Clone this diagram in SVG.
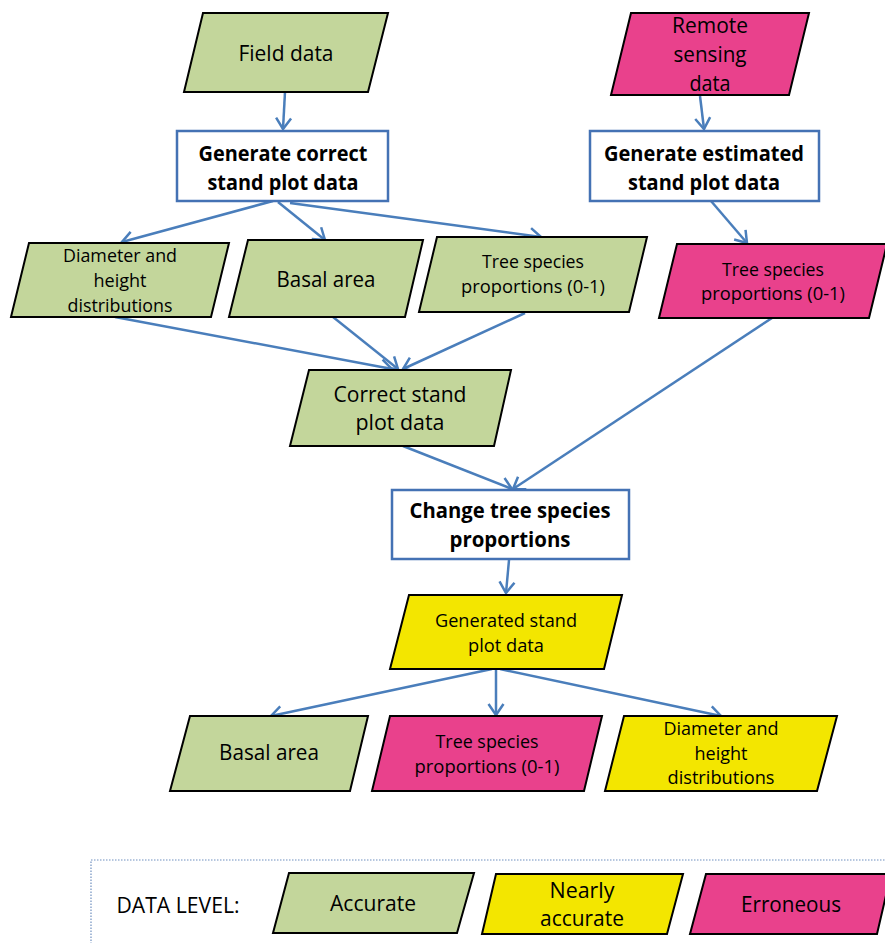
<svg xmlns="http://www.w3.org/2000/svg" width="885" height="943" viewBox="0 0 885 943">
<defs>
<marker id="ah" markerUnits="userSpaceOnUse" markerWidth="22" markerHeight="22" viewBox="-13 -11 16 22" refX="0" refY="0" orient="auto">
<path d="M -11 -7.5 L 0 0 L -11 7.5" fill="none" stroke="#4A7EBB" stroke-width="2.5"/>
</marker>
</defs>
<style>
.g{fill:#C3D69B;stroke:#000;stroke-width:2}
.p{fill:#E9418C;stroke:#000;stroke-width:2}
.y{fill:#F3E600;stroke:#000;stroke-width:2}
.box{fill:#fff;stroke:#4472B4;stroke-width:2.5}
.t{font-family:"Open Sans","DejaVu Sans",sans-serif;font-size:21px;fill:#000;text-anchor:middle}
.s{font-family:"Open Sans","DejaVu Sans",sans-serif;font-size:17.5px;fill:#000;text-anchor:middle}
.b{font-family:"Open Sans","DejaVu Sans",sans-serif;font-size:21px;font-weight:bold;fill:#000;text-anchor:middle}
.c path, .c line{stroke:#4A7EBB;stroke-width:2.5;fill:none;marker-end:url(#ah)}
</style>
<g class="c" id="connectors">
<line x1="285" y1="92" x2="283" y2="129"/>
<line x1="700" y1="96" x2="704" y2="129"/>
<line x1="273" y1="201" x2="122" y2="242"/>
<line x1="278" y1="202" x2="325" y2="240"/>
<line x1="290" y1="203" x2="541" y2="237"/>
<line x1="711" y1="201" x2="747" y2="243"/>
<line x1="115" y1="317" x2="392" y2="369"/>
<line x1="333" y1="317" x2="398" y2="369"/>
<line x1="525" y1="313" x2="403" y2="369"/>
<line x1="403" y1="446" x2="512" y2="489"/>
<line x1="772" y1="318" x2="513" y2="489"/>
<line x1="509" y1="560" x2="506" y2="593"/>
<line x1="492" y1="669" x2="271" y2="716"/>
<line x1="496" y1="669" x2="496" y2="715"/>
<line x1="500" y1="669" x2="721" y2="716"/>
</g>
<g id="field-data">
<polygon class="g" points="203,13 388,13 368,92 184,92"/>
<text class="t" x="286" y="61" textLength="95" lengthAdjust="spacingAndGlyphs">Field data</text>
</g>
<g id="remote-sensing">
<polygon class="p" points="631,13 809,13 789,95 611,95"/>
<text class="t" x="710" y="33" textLength="76" lengthAdjust="spacingAndGlyphs">Remote</text>
<text class="t" x="710" y="62" textLength="73" lengthAdjust="spacingAndGlyphs">sensing</text>
<text class="t" x="710" y="91" textLength="41" lengthAdjust="spacingAndGlyphs">data</text>
</g>
<g id="gen-correct">
<rect class="box" x="177" y="131" width="211" height="70"/>
<text class="b" x="283" y="161" textLength="169" lengthAdjust="spacingAndGlyphs">Generate correct</text>
<text class="b" x="283" y="190" textLength="151" lengthAdjust="spacingAndGlyphs">stand plot data</text>
</g>
<g id="gen-estimated">
<rect class="box" x="590" y="131" width="229" height="70"/>
<text class="b" x="704" y="161" textLength="200" lengthAdjust="spacingAndGlyphs">Generate estimated</text>
<text class="b" x="704" y="190" textLength="152" lengthAdjust="spacingAndGlyphs">stand plot data</text>
</g>
<g id="diameter-1">
<polygon class="g" points="29,243 229,243 211,317 11,317"/>
<text class="s" x="120" y="262" textLength="114" lengthAdjust="spacingAndGlyphs">Diameter and</text>
<text class="s" x="120" y="287" textLength="53" lengthAdjust="spacingAndGlyphs">height</text>
<text class="s" x="120" y="312" textLength="105" lengthAdjust="spacingAndGlyphs">distributions</text>
</g>
<g id="basal-1">
<polygon class="g" points="248,240 423,240 405,317 229,317"/>
<text class="t" x="326" y="287" textLength="99" lengthAdjust="spacingAndGlyphs">Basal area</text>
</g>
<g id="tree-green">
<polygon class="g" points="437,237 647,237 629,312 419,312"/>
<text class="s" x="533" y="268" textLength="102" lengthAdjust="spacingAndGlyphs">Tree species</text>
<text class="s" x="533" y="293" textLength="144" lengthAdjust="spacingAndGlyphs">proportions (0-1)</text>
</g>
<g id="tree-pink">
<polygon class="p" points="677,244 887,244 869,318 659,318"/>
<text class="s" x="773" y="276" textLength="102" lengthAdjust="spacingAndGlyphs">Tree species</text>
<text class="s" x="773" y="300" textLength="144" lengthAdjust="spacingAndGlyphs">proportions (0-1)</text>
</g>
<g id="correct-stand">
<polygon class="g" points="309,370 511,370 494,446 290,446"/>
<text class="t" x="400" y="402" textLength="133" lengthAdjust="spacingAndGlyphs">Correct stand</text>
<text class="t" x="400" y="430" textLength="89" lengthAdjust="spacingAndGlyphs">plot data</text>
</g>
<g id="change">
<rect class="box" x="392" y="490" width="237" height="69"/>
<text class="b" x="510" y="518" textLength="201" lengthAdjust="spacingAndGlyphs">Change tree species</text>
<text class="b" x="510" y="547" textLength="121" lengthAdjust="spacingAndGlyphs">proportions</text>
</g>
<g id="generated">
<polygon class="y" points="409,595 622,595 604,669 390,669"/>
<text class="s" x="506" y="627" textLength="142" lengthAdjust="spacingAndGlyphs">Generated stand</text>
<text class="s" x="506" y="652" textLength="76" lengthAdjust="spacingAndGlyphs">plot data</text>
</g>
<g id="basal-2">
<polygon class="g" points="190,716 368,716 350,791 170,791"/>
<text class="t" x="269" y="760" textLength="100" lengthAdjust="spacingAndGlyphs">Basal area</text>
</g>
<g id="tree-2">
<polygon class="p" points="390,716 602,716 584,791 372,791"/>
<text class="s" x="487" y="748" textLength="103" lengthAdjust="spacingAndGlyphs">Tree species</text>
<text class="s" x="487" y="773" textLength="145" lengthAdjust="spacingAndGlyphs">proportions (0-1)</text>
</g>
<g id="diameter-2">
<polygon class="y" points="624,716 837,716 817,791 605,791"/>
<text class="s" x="721" y="735" textLength="115" lengthAdjust="spacingAndGlyphs">Diameter and</text>
<text class="s" x="721" y="760" textLength="53" lengthAdjust="spacingAndGlyphs">height</text>
<text class="s" x="721" y="784" textLength="107" lengthAdjust="spacingAndGlyphs">distributions</text>
</g>
<g id="legend">
<rect x="91" y="860" width="800" height="100" fill="none" stroke="#6F8FBF" stroke-width="1.2" stroke-dasharray="1.5 1.5"/>
<text class="t" x="178" y="913" textLength="123" lengthAdjust="spacingAndGlyphs">DATA LEVEL:</text>
<polygon class="g" points="289,873 474,873 457,933 273,933"/>
<text class="t" x="373" y="911" textLength="86" lengthAdjust="spacingAndGlyphs">Accurate</text>
<polygon class="y" points="496,874 683,874 667,934 482,934"/>
<text class="t" x="582" y="898" textLength="65" lengthAdjust="spacingAndGlyphs">Nearly</text>
<text class="t" x="582" y="926" textLength="84" lengthAdjust="spacingAndGlyphs">accurate</text>
<polygon class="p" points="706,874 891,874 877,934 690,934"/>
<text class="t" x="791" y="912" textLength="100" lengthAdjust="spacingAndGlyphs">Erroneous</text>
</g>
</svg>
